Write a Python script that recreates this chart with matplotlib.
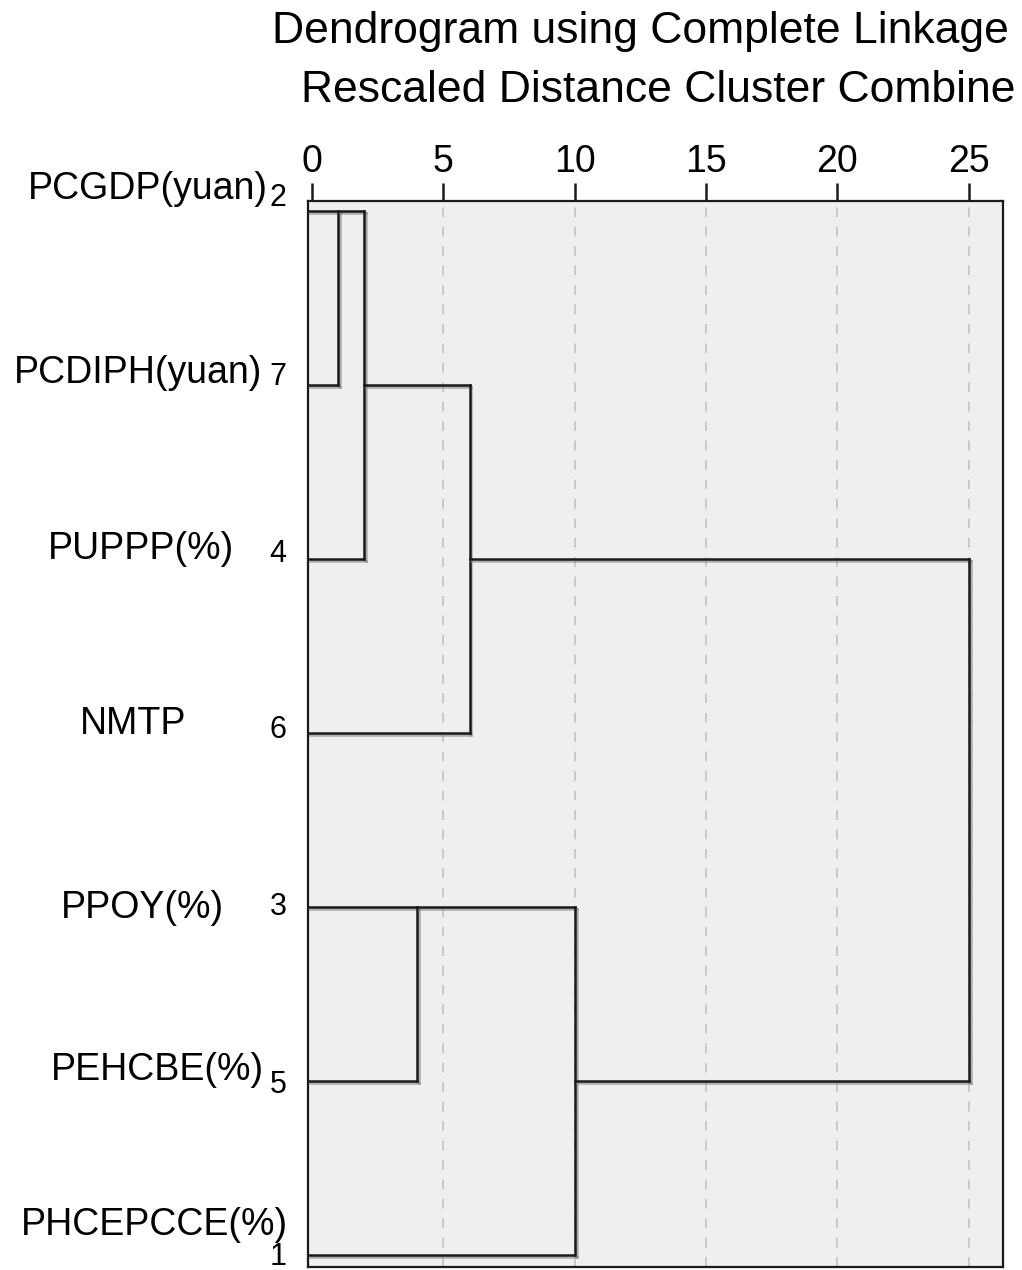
import math
import matplotlib
matplotlib.use("Agg")
import matplotlib.pyplot as plt
import matplotlib.patheffects as pe
import matplotlib.transforms as mtrans

plt.rcParams['font.family'] = ['Liberation Sans', 'DejaVu Sans']

# leaves in display order (top to bottom)
leaf_names = ["PCGDP(yuan)", "PCDIPH(yuan)", "PUPPP(%)", "NMTP", "PPOY(%)", "PEHCBE(%)", "PHCEPCCE(%)"]
leaf_ids = [2, 7, 4, 6, 3, 5, 1]
# merges: (child a, child b, rescaled distance); children are leaf row indices or "Cn" cluster refs
merges = [
    (0, 1, 1),        # C0
    ("C0", 2, 2),     # C1
    ("C1", 3, 6),     # C2
    (4, 5, 4),        # C3
    ("C3", 6, 10),    # C4
    ("C2", "C4", 25), # C5
]
xticks = [0, 5, 10, 15, 20, 25]
title1 = "Dendrogram using Complete Linkage"
title2 = "Rescaled Distance Cluster Combine"

fig = plt.figure(figsize=(10.22, 12.70), dpi=100)
ax = fig.add_axes([308/1022, 3/1270, (1003-308)/1022, (1267-201)/1270])
ax.set_facecolor('#efefef')
xmin, xmax = -0.15, 26.3
ax.set_xlim(xmin, xmax)
ax.set_ylim(6.07, -0.06)

for xv in xticks[1:]:
    ax.axvline(xv, color='#c8c8c8', lw=1.4, ls=(0, (5, 5)), zorder=1)

line_kw = dict(color='#1a1a1a', lw=1.8, zorder=3, solid_capstyle='projecting',
               path_effects=[pe.SimpleLineShadow(offset=(1.3, -1.3), shadow_color='#808080', alpha=0.6), pe.Normal()])

nodes = {}
def pos(c):
    if isinstance(c, str):
        return nodes[c]
    return (float(c), xmin)

for i, (a, b, d) in enumerate(merges):
    ya, xa = pos(a)
    yb, xb = pos(b)
    ax.plot([xa, d], [ya, ya], **line_kw)
    ax.plot([xb, d], [yb, yb], **line_kw)
    ax.plot([d, d], [ya, yb], **line_kw)
    nodes["C%d" % i] = (math.floor((ya + yb) / 2), d)

ax.xaxis.tick_top()
ax.set_xticks(xticks)
ax.set_xticklabels([str(t) for t in xticks], fontsize=27)
ax.tick_params(axis='x', direction='out', length=13, width=1.8, pad=2, color='#1a1a1a')
ax.set_yticks([])
for s in ax.spines.values():
    s.set_linewidth(1.6)
    s.set_color('#1a1a1a')

# leaf labels (names and case numbers)
tr = mtrans.blended_transform_factory(fig.transFigure, ax.transData)
name_dy = [-0.13, -0.07, -0.06, -0.05, 0.005, -0.065, -0.17]
num_dy = [-0.08, -0.05, -0.03, -0.02, 0.0, 0.025, 0.012]
name_x = [268, 262, 234, 186, 224, 264, 288]
for i, (nm, nid) in enumerate(zip(leaf_names, leaf_ids)):
    ax.text(name_x[i] / 1022, i + name_dy[i], nm, transform=tr,
            ha='right', va='center', fontsize=27)
    ax.text(278 / 1022, i + num_dy[i], str(nid), transform=tr,
            ha='center', va='center', fontsize=22)

fig.text(640/1022, 1 - 31/1270, title1, ha='center', va='center', fontsize=32)
fig.text(658/1022, 1 - 91/1270, title2, ha='center', va='center', fontsize=32)

fig.savefig("out.png", dpi=100)
